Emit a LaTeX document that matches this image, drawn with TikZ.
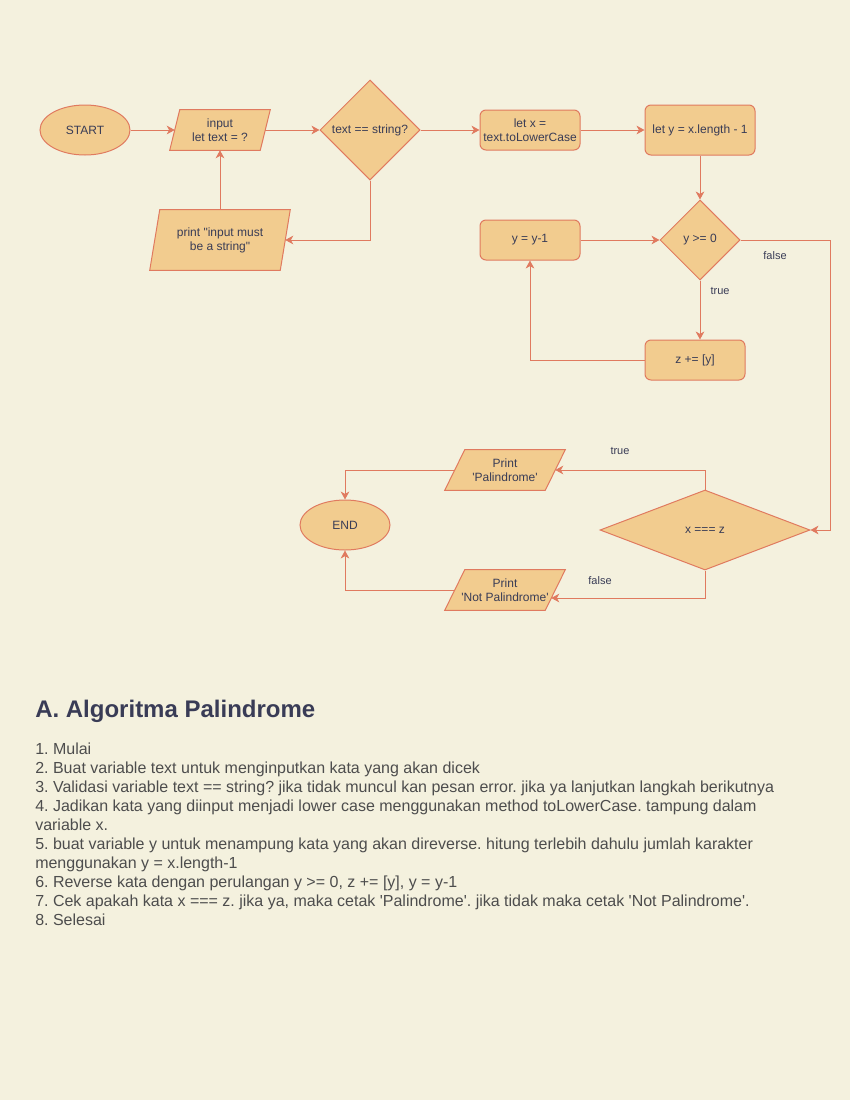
\documentclass[tikz,border=0pt]{standalone}
\usepackage{fontspec}
\setmainfont{Liberation Sans}[Ligatures=TeXOff]
\frenchspacing
\usetikzlibrary{shapes.geometric,arrows.meta}
\definecolor{bgc}{HTML}{F4F1DE}
\definecolor{fillc}{HTML}{F2CC8F}
\definecolor{strokec}{HTML}{E07A5F}
\definecolor{txtc}{HTML}{393C56}
\definecolor{bodyc}{HTML}{4D4D4D}
\pgfdeclarelayer{paper}
\pgfdeclarelayer{shapes}
\pgfsetlayers{paper,shapes,main}
\newcommand{\plgram}[2]{\draw[shp] ([shift={(#2,0)}]#1.north west) -- ([shift={(#2,0)}]#1.north east) -- ([shift={(-#2,0)}]#1.south east) -- ([shift={(-#2,0)}]#1.south west) -- cycle;}
\tikzset{
  every node/.style={font=\fontsize{9}{10.5}\selectfont, text=txtc, inner sep=0pt, align=center},
  shp/.style={draw=strokec, fill=fillc, line width=0.75pt},
  term/.style={shp, ellipse, minimum width=67.5pt, minimum height=37.5pt},
  proc/.style={shp, rectangle, rounded corners=4.5pt, minimum width=75pt, minimum height=30pt},
  dec/.style={shp, diamond},
  io/.style={rectangle, minimum height=30pt},
  conn/.style={draw=strokec, line width=0.75pt, -{Stealth[length=6pt,width=6.5pt,inset=1.8pt]}},
  lbl/.style={font=\fontsize{8.25}{10}\selectfont},
  body/.style={anchor=base west, font=\fontsize{12}{14}\selectfont, text=bodyc, align=left},
}
\begin{document}
\begin{tikzpicture}[x=0.75pt,y=-0.75pt]
\begin{pgfonlayer}{paper}
\fill[bgc] (0,0) rectangle (850,1100);
\end{pgfonlayer}
\useasboundingbox (0,0) rectangle (850,1100);

% nodes
\node[term] (start) at (85,130) {START};
\node[io, minimum width=67.5pt] (inp) at (220,130) {input\\let text = ?};
\node[dec, minimum width=75pt, minimum height=75pt] (chk) at (370,130) {text == string?};
\node[proc] (lx) at (530,130) {let x =\\text.toLowerCase};
\node[proc, minimum width=82.5pt, minimum height=37.5pt] (ly) at (700,130) {let y = x.length - 1};
\node[io, minimum width=97.5pt, minimum height=45pt] (perr) at (220,240) {print "input must\\be a string"};
\node[proc] (decr) at (530,240) {y = y-1};
\node[dec, minimum width=60pt, minimum height=60pt] (loop) at (700,240) {y >= 0};
\node[proc] (zadd) at (695,360) {z += [y]};
\node[io, minimum width=75pt] (ppal) at (505,470) {Print\\'Palindrome'};
\node[term] (endn) at (345,525) {END};
\node[dec, minimum width=157.5pt, minimum height=60pt] (cmp) at (705,530) {x === z};
\node[io, minimum width=75pt] (pnot) at (505,590) {Print\\'Not Palindrome'};

\begin{pgfonlayer}{shapes}
\plgram{inp}{5}
\plgram{perr}{5}
\plgram{ppal}{10}
\plgram{pnot}{10}
\end{pgfonlayer}

% connectors
\draw[conn] (start) -- (inp);
\draw[conn] (inp) -- (chk);
\draw[conn] (chk) -- (lx);
\draw[conn] (lx) -- (ly);
\draw[conn] (chk.south) |- (perr.east);
\draw[conn] (perr.north) -- (inp.south);
\draw[conn] (ly.south) -- (loop.north);
\coordinate (rc) at (830,530);
\draw[conn] (loop.east) -| (rc) -- (cmp.east);
\draw[conn] (loop.south) -- (loop.south |- zadd.north);
\draw[conn] (zadd.west) -| (decr.south);
\draw[conn] (decr.east) -- (loop.west);
\draw[conn] (cmp.north) |- (ppal.east);
\draw[conn] (ppal.west) -| (endn.north);
\draw[conn] (cmp.south) |- ([shift={(-4,8)}]pnot.east);
\draw[conn] (pnot.west) -| (endn.south);

% labels
\node[lbl] (lf1) at (775,256) {false};
\node[lbl] (lt1) at (720,291) {true};
\node[lbl] (lt2) at (620,451) {true};
\node[lbl] (lf2) at (600,581) {false};

% text
\node[anchor=base west, font=\fontsize{18}{21}\selectfont\bfseries, text=txtc] (head) at (35,717) {A. Algoritma Palindrome};
\node[body] (t1) at (35,754) {1. Mulai};
\node[body] (t2) at (35,773) {2. Buat variable text untuk menginputkan kata yang akan dicek};
\node[body] (t3) at (35,792) {3. Validasi variable text == string? jika tidak muncul kan pesan error. jika ya lanjutkan langkah berikutnya};
\node[body] (t4) at (35,811) {4. Jadikan kata yang diinput menjadi lower case menggunakan method toLowerCase. tampung dalam};
\node[body] (t4b) at (35,830) {variable x.};
\node[body] (t5) at (35,849) {5. buat variable y untuk menampung kata yang akan direverse. hitung terlebih dahulu jumlah karakter};
\node[body] (t5b) at (35,868) {menggunakan y = x.length-1};
\node[body] (t6) at (35,887) {6. Reverse kata dengan perulangan y >= 0, z += [y], y = y-1};
\node[body] (t7) at (35,906) {7. Cek apakah kata x === z. jika ya, maka cetak 'Palindrome'. jika tidak maka cetak 'Not Palindrome'.};
\node[body] (t8) at (35,925) {8. Selesai};
\end{tikzpicture}
\end{document}
